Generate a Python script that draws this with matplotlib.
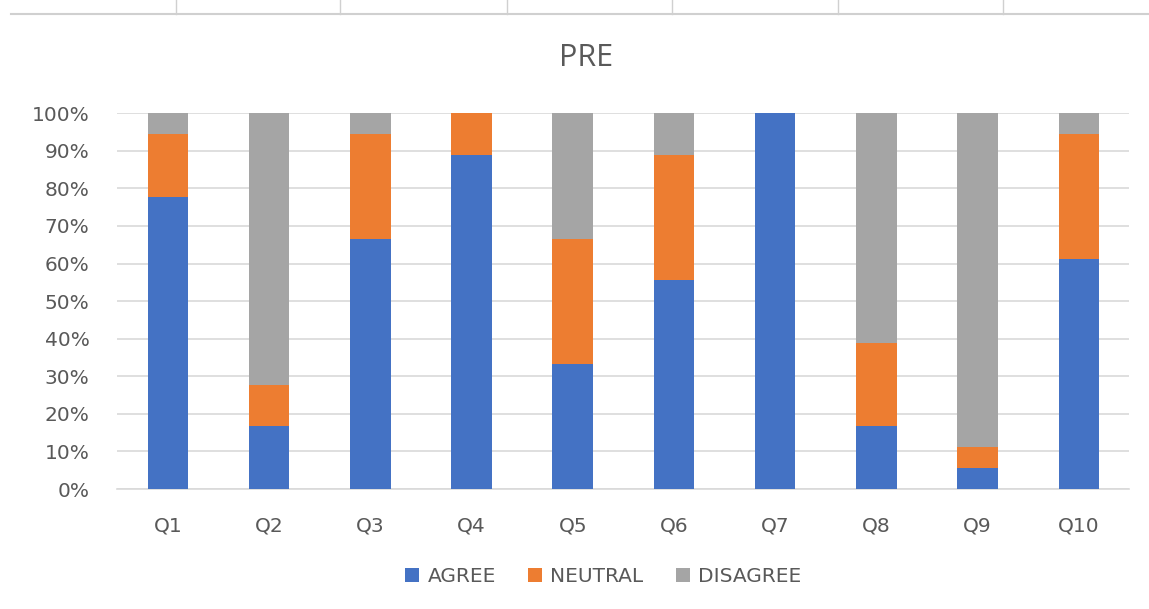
import numpy as np
import matplotlib.pyplot as plt
from matplotlib.lines import Line2D
from matplotlib.ticker import PercentFormatter

questions = ["Q1", "Q2", "Q3", "Q4", "Q5", "Q6", "Q7", "Q8", "Q9", "Q10"]
# responses out of 18
agree = [14, 3, 12, 16, 6, 10, 18, 3, 1, 11]
neutral = [3, 2, 5, 2, 6, 6, 0, 4, 1, 6]
disagree = [1, 13, 1, 0, 6, 2, 0, 11, 16, 1]
n_resp = 18

agree_pct = np.array(agree) / n_resp * 100
neutral_pct = np.array(neutral) / n_resp * 100
disagree_pct = np.array(disagree) / n_resp * 100

plt.rcParams['font.family'] = ['DejaVu Sans']
txt = '#595959'

fig = plt.figure(figsize=(11.49, 6.09), dpi=100)
ax = fig.add_axes([0.102, 0.197, 0.881, 0.617])

x = np.arange(len(questions))
w = 0.4
ax.bar(x, agree_pct, w, color='#4472C4', label='AGREE', zorder=3)
ax.bar(x, neutral_pct, w, bottom=agree_pct, color='#ED7D31', label='NEUTRAL', zorder=3)
ax.bar(x, disagree_pct, w, bottom=agree_pct + neutral_pct, color='#A5A5A5',
       label='DISAGREE', zorder=3)

ax.set_xlim(-0.5, len(questions) - 0.5)
ax.set_ylim(0, 100)
ax.set_yticks(np.arange(0, 101, 10))
ax.yaxis.set_major_formatter(PercentFormatter(decimals=0))
ax.set_xticks(x)
ax.set_xticklabels(questions)
ax.grid(axis='y', color='#D9D9D9', linewidth=1.2, zorder=0)
for s in ['top', 'right', 'left']:
    ax.spines[s].set_visible(False)
ax.spines['bottom'].set_color('#D9D9D9')
ax.spines['bottom'].set_linewidth(1.2)
ax.tick_params(length=0, labelsize=14.5, colors=txt)
ax.tick_params(axis='x', pad=20)
ax.tick_params(axis='y', pad=20)

fig.text(0.51, 0.905, 'PRE', ha='center', va='center', fontsize=22,
         color=txt, family='Open Sans')

ax.legend(loc='upper center', bbox_to_anchor=(0.48, -0.16), ncol=3, frameon=False,
          fontsize=14.5, handlelength=0.7, handleheight=0.7, handletextpad=0.4,
          columnspacing=1.6, labelcolor=txt)

# spreadsheet cell borders above the chart
fig.add_artist(Line2D([0.01, 1.0], [0.977, 0.977], color='#D0D0D0', lw=1.5))
for xv in [176, 340, 507, 672, 838, 1003]:
    fig.add_artist(Line2D([xv / 1149, xv / 1149], [0.977, 1.0], color='#D0D0D0', lw=1))

fig.savefig('out.png', dpi=100)
